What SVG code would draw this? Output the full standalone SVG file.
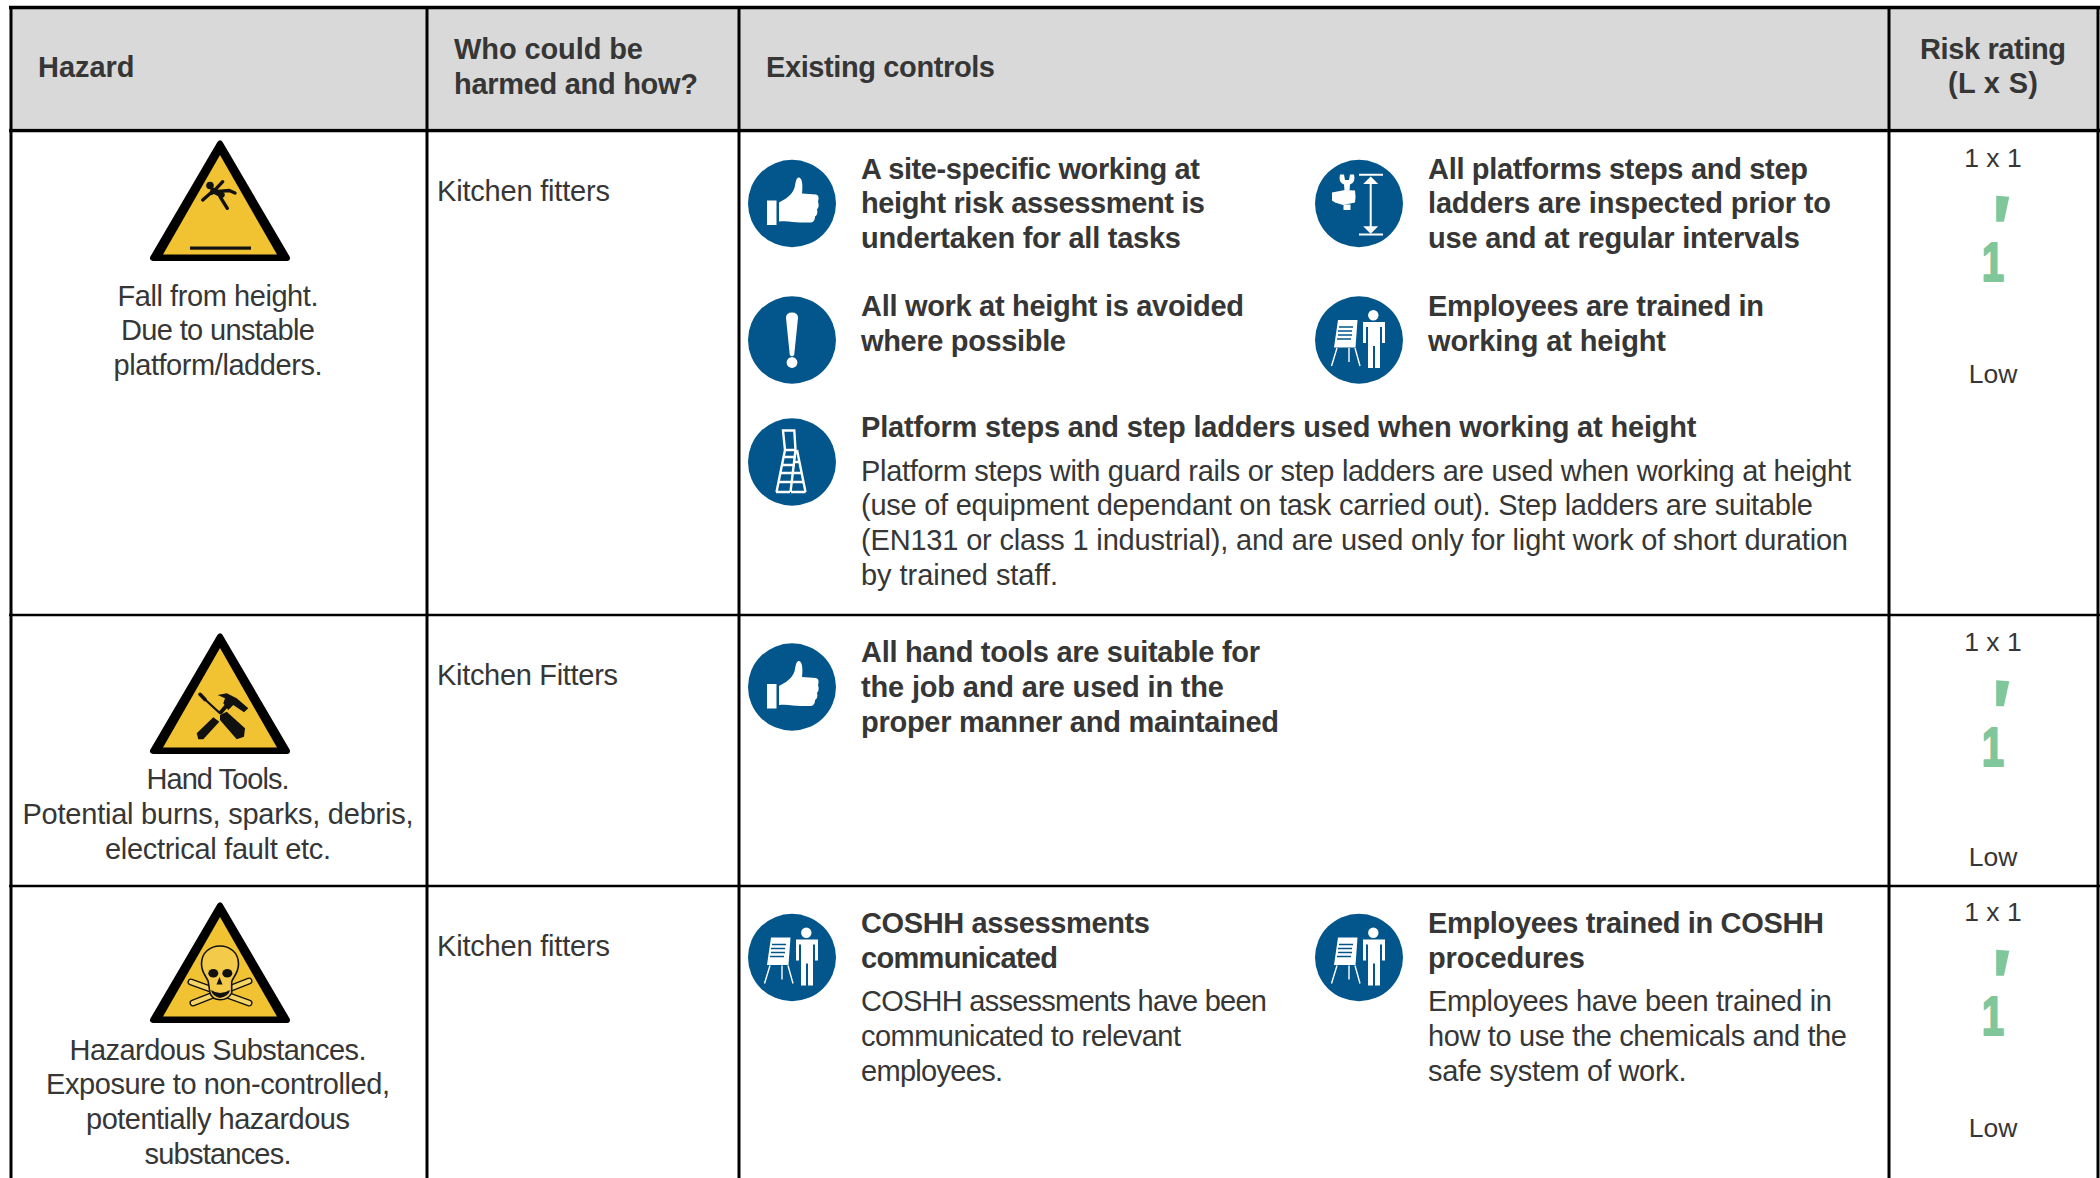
<svg xmlns="http://www.w3.org/2000/svg" width="2100" height="1178" viewBox="0 0 2100 1178">
<style>
text{font-family:"Liberation Sans",Arial,sans-serif;font-size:29px;fill:#363636}
.b{font-weight:700}
.c{text-anchor:middle}
.r{font-size:26.5px}
.g{fill:#7fc79a}
.w{fill:#fff}
.wl{fill:none;stroke:#fff;stroke-width:2}
.k{fill:#111}
.kl{fill:none;stroke:#111;stroke-linecap:round}
.grid{stroke:#000;fill:none}
</style>
<defs>
<g id="disc"><ellipse rx="44" ry="43.7" fill="#02568b"/></g>
<g id="thumb"><use href="#disc"/><rect class="w" x="-25" y="-3" width="9.5" height="24.5"/><path class="w" d="M-13,-1 L-6,-5 C-2,-8 2,-12 3,-18 C4,-24 5,-26 7,-26 C10,-25 11,-20 10,-10 L24,-9 C27,-8 27,-5 26,-2 C27,1 27,4 25,6 C26,9 25,12 23,13 C23,17 21,19 18,19 L8,19 C2,19 -4,17 -13,18 Z"/></g>
<g id="excl"><use href="#disc"/><path class="w" d="M-6,-22 Q-6,-27.5 0,-27.5 Q6,-27.5 6,-22 L2.2,15 Q0,17.5 -2.2,15 Z"/><circle class="w" cx="0" cy="22.5" r="5.4"/></g>
<g id="height"><use href="#disc"/><path class="wl" d="M0,-28.7H24M0,31H24M11.7,-22V25"/><path class="w" d="M11.7,-27L19.2,-19.5H4.2ZM11.7,30.2L4.2,22.7H19.2Z"/><path class="w" d="M-27,-11 L-14,-13.5 L-4,-13 Q-3,-7 -4,-1 L-16,1.5 L-24,-1 L-27,-3Z"/><path class="w" d="M-19,-29 L-15,-29 L-14,-23.5 L-10,-23.5 L-9,-29 L-5,-29 Q-3,-21 -9,-19 L-9.5,-13 L-14.5,-13 L-15,-19 Q-21,-21 -19,-29Z"/><rect class="w" x="-15.5" y="1" width="7" height="5.5"/></g>
<g id="trainer"><use href="#disc"/><circle class="w" cx="14.3" cy="-24.7" r="5.2"/><path class="w" d="M4,-18H26V3H23V-13H21V28H16V6H14V28H9V-13H7V3H4Z"/><path class="w" d="M-21,-20H-1.5L-3.5,7.5H-25Z"/><path d="M-20,-13H-6M-21,-9H-7M-21,-5H-7M-22,-1H-8" stroke="#02568b" stroke-width="1.6" fill="none"/><path d="M-22,8L-27.5,26M-10,8L-10,22M-4,8L1,26" class="wl" style="stroke-width:1.4"/></g>
<g id="ladder"><use href="#disc"/><path class="wl" style="stroke-width:2.4" d="M-9,-31.5H2.3L3.5,-12H-7ZM-7,-12L-15.5,30M3.5,-12L-1.5,30M5,-12L13.5,30M-1,30H13.5M-16,30H-2M-8,-5H4M-10,3H3M-11.5,11H1M-13,20H0M2,0H8M0,11H10M-1,20H11.5"/></g>
<g id="tri"><polygon points="0,3.5 -67,118 67,118" fill="#000" stroke="#000" stroke-width="6" stroke-linejoin="round"/><polygon points="0,15 -57,114.6 57,114.6" fill="#f1c232"/></g>
<g id="fall"><use href="#tri"/><rect x="-30" y="106.5" width="61" height="3.2" class="k"/><circle class="k" cx="-10" cy="45.5" r="3.8"/><path class="kl" style="stroke-width:3.4" d="M-8.3,53.3L2.7,41.7M-6.7,50.7L-17.3,60M-5,51.7L9,50.5L15,53M0,56.7L7.3,68.3"/><path class="kl" style="stroke-width:5.5" d="M-7,50.5L2,55"/></g>
<g id="tools"><use href="#tri"/>
<path class="k" d="M-23.3,100.3L-6.7,84.3L-0.7,88.7L-16.7,106.3L-21.7,106.3Z"/>
<path class="kl" style="stroke-width:4;stroke-linecap:butt" d="M0,80.3L10,68.7"/>
<path class="k" d="M-2.3,62L6.7,60.3L16.7,65.3L28.3,75.3L24,79.3L13.3,72L8.3,77L3.3,70.3L5,65.3Z"/>
<path class="kl" style="stroke-width:3.6" d="M-20,61.3L-15,66.5"/>
<path class="kl" style="stroke-width:2.2" d="M-15,66.5L0,80.3"/>
<path class="k" d="M0,82L6.7,78.7L25,95.3L24,103.7L16.7,106.3L0,87Z"/></g>
<g id="skull"><use href="#tri"/>
<path class="kl" style="stroke-width:7" d="M-29,80L29,101M29,79L-27,101"/>
<path style="stroke:#f6d565;stroke-width:4.4;fill:none;stroke-linecap:round" d="M-29,80L29,101M29,79L-27,101"/>
<path d="M-18.5,62C-18.5,38 18.5,38 18.5,62C18.5,72 12,76 11.7,80L11.7,91C7,100 -7,100 -10,91L-11.7,80C-12,76 -18.5,72 -18.5,62Z" fill="#f3ca4a" stroke="#111" stroke-width="1.6"/>
<path class="k" d="M-9,88Q0,94 10,88Q9,94 0,96Q-8,94 -9,88Z"/>
<ellipse class="k" cx="-6.7" cy="71.3" rx="5" ry="4.3"/><ellipse class="k" cx="7.3" cy="71.3" rx="5" ry="4.3"/><path class="k" d="M-.5,75L2.5,82.5H-3.5Z"/></g>
<g id="rating"><polygon class="g" points="1996.2,195.7 2009.3,196.7 2003.9,221.7 1996.2,221.7"/><text transform="translate(1993 281) scale(.72 1)" class="b g c" style="font-size:56px;stroke:#7fc79a;stroke-width:2;stroke-linejoin:round;fill:#7fc79a">1</text></g>
</defs>
<rect width="2100" height="1178" fill="#fff"/>
<rect x="11" y="7" width="2087" height="121" fill="#d9d9d9"/>

<g id="connectors" class="grid">
<path stroke-width="3.5" d="M9,7.5H2100M9,130.5H2100"/>
<path stroke-width="2.6" d="M9,615H2100M9,886H2100"/>
<path stroke-width="3" d="M11,6V1178M427,6V1178M739,6V1178M1889,6V1178M2098,6V1178"/>
</g>

<g id="header">
<text class="b" x="38" y="77" textLength="96.4">Hazard</text>
<text class="b" x="454" y="59" textLength="189">Who could be</text><text class="b" x="454" y="94" textLength="244">harmed and how?</text>
<text class="b" x="766" y="77" textLength="229">Existing controls</text>
<text class="b c" x="1993" y="59" textLength="146">Risk rating</text><text class="b c" x="1993" y="93" textLength="90">(L x S)</text>
</g>

<g id="hazard-1"><use href="#fall" x="220" y="140"/>
<text class="c" x="218" y="306" textLength="201">Fall from height.</text><text class="c" x="218" y="340" textLength="194">Due to unstable</text><text class="c" x="218" y="375" textLength="209">platform/ladders.</text></g>
<g id="hazard-2"><use href="#tools" x="220" y="633"/>
<text class="c" x="218" y="789" textLength="143">Hand Tools.</text><text class="c" x="218" y="824" textLength="391">Potential burns, sparks, debris,</text><text class="c" x="218" y="859" textLength="226">electrical fault etc.</text></g>
<g id="hazard-3"><use href="#skull" x="220" y="902"/>
<text class="c" x="218" y="1060" textLength="297">Hazardous Substances.</text><text class="c" x="218" y="1094" textLength="344">Exposure to non-controlled,</text><text class="c" x="218" y="1129" textLength="264">potentially hazardous</text><text class="c" x="218" y="1164" textLength="147">substances.</text></g>

<g id="who"><text x="437" y="201" textLength="173">Kitchen fitters</text><text x="437" y="685" textLength="181">Kitchen Fitters</text><text x="437" y="956" textLength="173">Kitchen fitters</text></g>

<g id="control-1"><use href="#thumb" x="792" y="203.5"/>
<text class="b" x="861" y="179" textLength="339">A site-specific working at</text><text class="b" x="861" y="213" textLength="344">height risk assessment is</text><text class="b" x="861" y="248" textLength="320">undertaken for all tasks</text></g>
<g id="control-2"><use href="#height" x="1359" y="203.5"/>
<text class="b" x="1428" y="179" textLength="380">All platforms steps and step</text><text class="b" x="1428" y="213" textLength="403">ladders are inspected prior to</text><text class="b" x="1428" y="248" textLength="372">use and at regular intervals</text></g>
<g id="control-3"><use href="#excl" x="792" y="340"/>
<text class="b" x="861" y="316" textLength="383">All work at height is avoided</text><text class="b" x="861" y="351" textLength="205">where possible</text></g>
<g id="control-4"><use href="#trainer" x="1359" y="340"/>
<text class="b" x="1428" y="316" textLength="336">Employees are trained in</text><text class="b" x="1428" y="351" textLength="238">working at height</text></g>
<g id="control-5"><use href="#ladder" x="792" y="462"/>
<text class="b" x="861" y="437" textLength="835.5">Platform steps and step ladders used when working at height</text>
<text x="861" y="481" textLength="990">Platform steps with guard rails or step ladders are used when working at height</text>
<text x="861" y="515" textLength="952">(use of equipment dependant on task carried out). Step ladders are suitable</text>
<text x="861" y="550" textLength="987">(EN131 or class 1 industrial), and are used only for light work of short duration</text>
<text x="861" y="585" textLength="197">by trained staff.</text></g>
<g id="control-6"><use href="#thumb" x="792" y="687"/>
<text class="b" x="861" y="662" textLength="399">All hand tools are suitable for</text><text class="b" x="861" y="697" textLength="363">the job and are used in the</text><text class="b" x="861" y="732" textLength="418">proper manner and maintained</text></g>
<g id="control-7"><use href="#trainer" x="792" y="957.5"/>
<text class="b" x="861" y="933" textLength="289">COSHH assessments</text><text class="b" x="861" y="968" textLength="197">communicated</text>
<text x="861" y="1011" textLength="406">COSHH assessments have been</text><text x="861" y="1046" textLength="320">communicated to relevant</text><text x="861" y="1081" textLength="142">employees.</text></g>
<g id="control-8"><use href="#trainer" x="1359" y="957.5"/>
<text class="b" x="1428" y="933" textLength="396">Employees trained in COSHH</text><text class="b" x="1428" y="968" textLength="157">procedures</text>
<text x="1428" y="1011" textLength="404">Employees have been trained in</text><text x="1428" y="1046" textLength="419">how to use the chemicals and the</text><text x="1428" y="1081" textLength="258.5">safe system of work.</text></g>

<g id="risk-1"><text class="c r" x="1993" y="167">1 x 1</text><use href="#rating"/><text class="c r" x="1993" y="383">Low</text></g>
<g id="risk-2"><text class="c r" x="1993" y="651">1 x 1</text><use href="#rating" y="484.5"/><text class="c r" x="1993" y="866">Low</text></g>
<g id="risk-3"><text class="c r" x="1993" y="920.5">1 x 1</text><use href="#rating" y="754"/><text class="c r" x="1993" y="1137">Low</text></g>
</svg>
